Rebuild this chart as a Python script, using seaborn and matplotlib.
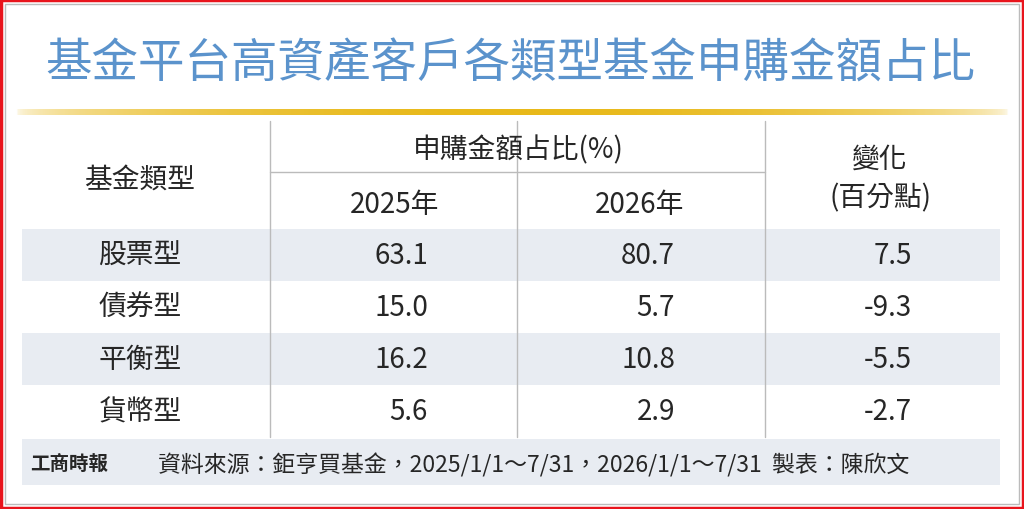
import matplotlib
matplotlib.use('Agg')
import matplotlib.pyplot as plt
import seaborn as sns
import numpy as np
from matplotlib.patches import Rectangle

sns.set_theme(style="white")
plt.rcParams['font.family'] = ['Noto Sans CJK TC', 'DejaVu Sans']

title = "基金平台高資產客戶各類型基金申購金額占比"
fund_types = ["股票型", "債券型", "平衡型", "貨幣型"]
share_2025 = [63.1, 15.0, 16.2, 5.6]
share_2026 = [80.7, 5.7, 10.8, 2.9]
change_pts = [7.5, -9.3, -5.5, -2.7]
source = "資料來源：鉅亨買基金，2025/1/1～7/31，2026/1/1～7/31  製表：陳欣文"

W, H = 1024, 510
fig = plt.figure(figsize=(W / 100, H / 100), dpi=100)
ax = fig.add_axes([0, 0, 1, 1])
ax.set_xlim(0, W)
ax.set_ylim(H, 0)
ax.axis('off')

# borders
ax.add_patch(Rectangle((1, 1), W - 2, H - 2, fill=False, ec='#e8141c', lw=2.5))
ax.add_patch(Rectangle((5, 5), W - 10, H - 10, fill=False, ec='#bbbbbb', lw=1))

ax.text(510, 64, title, ha='center', va='center', fontsize=33.5, color='#5b93cc')

# gold gradient line
grad = np.sin(np.linspace(0, np.pi, 400))[None, :] ** 0.4
cmap = matplotlib.colors.LinearSegmentedColormap.from_list('g', ['#ffffff', '#e8b91a'])
ax.imshow(grad, extent=(15, 1010, 116, 110), cmap=cmap, aspect='auto', vmin=0, vmax=1)

shade = '#e8ecf2'
row_h = 52
row_top = 230
for i in range(len(fund_types)):
    if i % 2 == 0:
        ax.add_patch(Rectangle((22, row_top + i * row_h), 978, row_h, color=shade, lw=0))
ax.add_patch(Rectangle((22, 440), 978, 46, color=shade, lw=0))

# grid lines
for x in (270, 517, 765):
    ax.plot([x, x], [122, 438], color='#bbbbbb', lw=1)
ax.plot([270, 765], [173, 173], color='#bbbbbb', lw=1)

hs = 20
ax.text(140, 180, "基金類型", ha='center', va='center', fontsize=hs)
ax.text(518, 150, "申購金額占比(%)", ha='center', va='center', fontsize=hs)
ax.text(395, 205, "2025年", ha='center', va='center', fontsize=hs)
ax.text(640, 205, "2026年", ha='center', va='center', fontsize=hs)
ax.text(880, 160, "變化", ha='center', va='center', fontsize=hs)
ax.text(880, 198, "(百分點)", ha='center', va='center', fontsize=hs)

for i, name in enumerate(fund_types):
    y = row_top + i * row_h + row_h / 2
    ax.text(140, y, name, ha='center', va='center', fontsize=hs)
    ax.text(428, y, f"{share_2025[i]:.1f}", ha='right', va='center', fontsize=hs)
    ax.text(675, y, f"{share_2026[i]:.1f}", ha='right', va='center', fontsize=hs)
    ax.text(912, y, f"{change_pts[i]:.1f}", ha='right', va='center', fontsize=hs)

ax.text(30, 465, "工商時報", ha='left', va='center', fontsize=14, fontweight='bold')
ax.text(158, 465, source, ha='left', va='center', fontsize=16.5)

fig.savefig('out.png', dpi=100, facecolor='white')
